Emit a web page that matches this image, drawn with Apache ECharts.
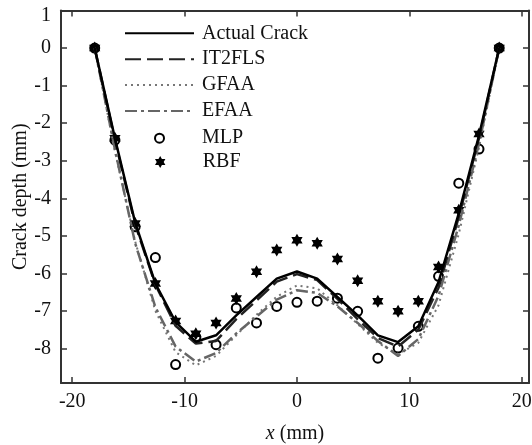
<!DOCTYPE html>
<html>
<head>
<meta charset="utf-8">
<script src="https://cdn.jsdelivr.net/npm/echarts@6/dist/echarts.min.js"></script>
<style>
  html, body { margin: 0; padding: 0; background: #fff; }
</style>
</head>
<body>
<div id="main" style="width: 532px; height: 445px;"></div>
<script>
// crack position along x (mm)
const xs = [-18, -16.2, -14.4, -12.6, -10.8, -9, -7.2, -5.4, -3.6, -1.8, 0, 1.8, 3.6, 5.4, 7.2, 9, 10.8, 12.6, 14.4, 16.2, 18];

// crack depth (mm) for each method
const actualCrack = [0, -2.4, -4.65, -6.27, -7.3, -7.82, -7.65, -7.12, -6.63, -6.14, -5.95, -6.14, -6.63, -7.12, -7.65, -7.83, -7.41, -6.23, -4.4, -2.33, 0];
const it2fls = [0, -2.45, -4.7, -6.3, -7.4, -7.87, -7.8, -7.22, -6.72, -6.22, -6.02, -6.18, -6.68, -7.22, -7.72, -7.95, -7.5, -6.38, -4.5, -2.4, 0];
const gfaa = [0, -2.75, -5.15, -7.0, -8.1, -8.45, -8.2, -7.65, -7.1, -6.62, -6.32, -6.4, -6.85, -7.35, -7.85, -8.15, -7.85, -6.85, -4.95, -2.65, 0];
const efaa = [0, -2.7, -5.2, -6.9, -7.95, -8.35, -8.12, -7.6, -7.15, -6.7, -6.45, -6.52, -6.88, -7.32, -7.8, -8.2, -7.75, -6.6, -4.72, -2.55, 0];
const mlp = [0, -2.45, -4.76, -5.58, -8.43, -7.7, -7.9, -6.92, -7.32, -6.88, -6.77, -6.74, -6.66, -7.01, -8.26, -7.99, -7.41, -6.08, -3.6, -2.69, 0];
const rbf = [0, -2.4, -4.67, -6.27, -7.27, -7.61, -7.32, -6.67, -5.96, -5.38, -5.12, -5.2, -5.62, -6.2, -6.74, -7.01, -6.74, -5.83, -4.32, -2.29, 0];

// tick labels
const xTicks = [-20, -10, 0, 10, 20];
const yTicks = [1, 0, -1, -2, -3, -4, -5, -6, -7, -8];

const pairs = arr => xs.map((x, i) => [x, arr[i]]);
const font = 'Liberation Serif';
const star = 'path://M0,-10 L2.887,-5 L8.66,-5 L5.774,0 L8.66,5 L2.887,5 L0,10 L-2.887,5 L-8.66,5 L-5.774,0 L-8.66,-5 L-2.887,-5 Z';

const frame = { show: true, onZero: false, lineStyle: { color: '#333', width: 2 } };
const tick = { show: true, inside: true, length: 6, lineStyle: { color: '#333', width: 1.5 } };

const legendBase = {
  orient: 'vertical',
  padding: 0,
  itemGap: 5.9,
  textStyle: { fontFamily: font, fontSize: 20, lineHeight: 20, color: '#111', padding: [0, 0, 0, 3] },
  selectedMode: false
};

let chartDom = document.getElementById('main');
let myChart = echarts.init(chartDom);
let option = {
  animation: false,
  textStyle: { fontFamily: font },
  grid: { left: 61, right: 3, top: 10.5, bottom: 62, outerBoundsMode: 'none' },
  legend: [
    Object.assign({}, legendBase, {
      left: 124, top: 23.3, itemWidth: 69, itemHeight: 14,
      itemStyle: { color: 'rgba(0,0,0,0)', borderColor: 'rgba(0,0,0,0)', borderWidth: 0 },
      data: ['Actual Crack', 'IT2FLS', 'GFAA', 'EFAA']
    }),
    Object.assign({}, legendBase, { left: 154, top: 128.2, itemWidth: 69, itemHeight: 9, data: ['MLP'] }),
    Object.assign({}, legendBase, { left: 155, top: 152, itemWidth: 69, itemHeight: 12, data: ['RBF'] })
  ],
  xAxis: [
    {
      type: 'value', min: -21, max: 20.65,
      name: '{i|x} (mm)', nameLocation: 'middle', nameGap: 41, nameMoveOverlap: false,
      nameTextStyle: { fontFamily: font, fontSize: 20, color: '#111', rich: { i: { fontFamily: font, fontSize: 20, fontStyle: 'italic', color: '#111' } } },
      axisLine: frame, axisTick: Object.assign({ customValues: xTicks }, tick),
      axisLabel: { customValues: xTicks, fontFamily: font, fontSize: 20, color: '#111', margin: 9 },
      splitLine: { show: false }
    },
    {
      type: 'value', min: -21, max: 20.65, position: 'top',
      axisLine: frame, axisTick: Object.assign({ customValues: xTicks }, tick),
      axisLabel: { show: false }, splitLine: { show: false }
    }
  ],
  yAxis: [
    {
      type: 'value', min: -8.92, max: 1,
      name: 'Crack depth (mm)', nameLocation: 'middle', nameGap: 30, nameMoveOverlap: false,
      nameTextStyle: { fontFamily: font, fontSize: 20, color: '#111' },
      axisLine: frame, axisTick: Object.assign({ customValues: yTicks }, tick),
      axisLabel: {
        customValues: yTicks, fontFamily: font, fontSize: 20, color: '#111', margin: 10,
        formatter: v => (v === 1 ? '{t|1}' : String(v)),
        rich: { t: { fontFamily: font, fontSize: 20, color: '#111', padding: [11, 0, 0, 0] } }
      },
      splitLine: { show: false }
    },
    {
      type: 'value', min: -8.92, max: 1, position: 'right',
      axisLine: frame, axisTick: Object.assign({ customValues: yTicks }, tick),
      axisLabel: { show: false }, splitLine: { show: false }
    }
  ],
  series: [
    {
      name: 'GFAA', type: 'line', data: pairs(gfaa), symbol: 'none',
      lineStyle: { color: '#777', width: 2, type: [2, 4] }, itemStyle: { color: '#777' }
    },
    {
      name: 'EFAA', type: 'line', data: pairs(efaa), symbol: 'none',
      lineStyle: { color: '#666', width: 2.5, type: [12, 4, 3, 4] }, itemStyle: { color: '#666' }
    },
    {
      name: 'IT2FLS', type: 'line', data: pairs(it2fls), symbol: 'none',
      lineStyle: { color: '#222', width: 2.5, type: [16, 6] }, itemStyle: { color: '#222' }
    },
    {
      name: 'Actual Crack', type: 'line', data: pairs(actualCrack), symbol: 'none',
      lineStyle: { color: '#000', width: 2.5 }, itemStyle: { color: '#000' }
    },
    {
      name: 'MLP', type: 'scatter', data: pairs(mlp), symbol: 'emptyCircle', symbolSize: 9,
      itemStyle: { color: '#000', borderColor: '#000', borderWidth: 2.5, opacity: 1 }
    },
    {
      name: 'RBF', type: 'scatter', data: pairs(rbf), symbol: star, symbolSize: 13, symbolKeepAspect: true,
      itemStyle: { color: '#000', opacity: 1 }
    }
  ]
};

option && myChart.setOption(option);
</script>
</body>
</html>
